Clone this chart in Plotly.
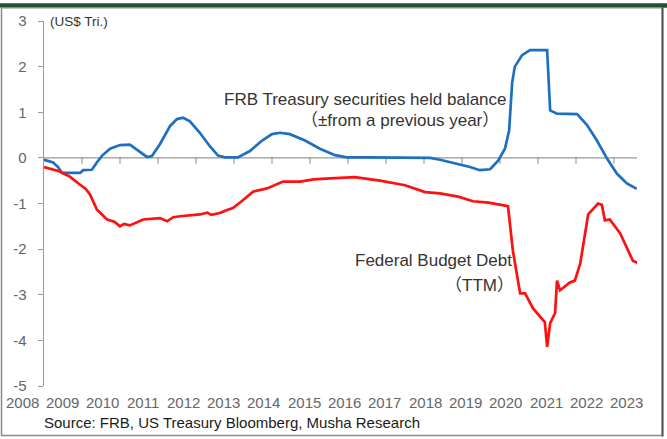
import plotly.graph_objects as go

# ---- data ----
blue_x = [2008.0, 2008.03, 2008.24, 2008.37, 2008.47, 2008.95, 2009.03, 2009.26, 2009.39, 2009.53,
          2009.74, 2010.0, 2010.26, 2010.53, 2010.71, 2010.84, 2011.05, 2011.32, 2011.5, 2011.66,
          2011.84, 2012.1, 2012.37, 2012.58, 2012.76, 2013.1, 2013.42, 2013.74, 2014.0, 2014.21,
          2014.47, 2014.87, 2015.26, 2015.66, 2015.97, 2016.5, 2017.0, 2017.5, 2018.16, 2018.42,
          2018.82, 2019.21, 2019.47, 2019.74, 2019.95, 2020.13, 2020.24, 2020.32, 2020.39, 2020.58,
          2020.79, 2021.24, 2021.32, 2021.5, 2022.03, 2022.29, 2022.55, 2022.82, 2023.08, 2023.34,
          2023.6]
blue_y = [-0.03, -0.05, -0.1, -0.2, -0.33, -0.33, -0.27, -0.26, -0.1, 0.05,
          0.2, 0.28, 0.29, 0.13, 0.02, 0.04, 0.3, 0.7, 0.85, 0.88,
          0.8, 0.55, 0.25, 0.05, 0.01, 0.01, 0.15, 0.38, 0.52, 0.55,
          0.52, 0.38, 0.2, 0.06, 0.01, 0.01, 0.01, 0.0, 0.0, -0.04,
          -0.12, -0.2, -0.27, -0.25, -0.06, 0.2, 0.6, 1.65, 2.0, 2.25,
          2.36, 2.36, 1.04, 0.97, 0.96, 0.72, 0.38, -0.02, -0.35, -0.56,
          -0.68]

red_x = [2008.0, 2008.2, 2008.42, 2008.55, 2008.68, 2008.95, 2009.1, 2009.21, 2009.39, 2009.66,
         2009.85, 2010.0, 2010.1, 2010.26, 2010.45, 2010.61, 2011.05, 2011.15, 2011.24, 2011.4,
         2011.58, 2012.1, 2012.3, 2012.4, 2012.63, 2012.8, 2012.97, 2013.2, 2013.5, 2013.87,
         2014.29, 2014.74, 2015.1, 2015.53, 2016.18, 2016.84, 2017.5, 2018.03, 2018.42, 2018.9,
         2019.29, 2019.7, 2020.21, 2020.34, 2020.53, 2020.66, 2020.87, 2021.18, 2021.24, 2021.32,
         2021.45, 2021.5, 2021.58, 2021.84, 2021.97, 2022.11, 2022.32, 2022.58, 2022.68, 2022.76,
         2022.89, 2023.16, 2023.34, 2023.5, 2023.63]
red_y = [-0.2, -0.25, -0.3, -0.36, -0.41, -0.59, -0.68, -0.8, -1.13, -1.35,
         -1.4, -1.5, -1.45, -1.48, -1.4, -1.35, -1.32, -1.36, -1.39, -1.3,
         -1.28, -1.24, -1.2, -1.25, -1.21, -1.15, -1.1, -0.95, -0.74, -0.67,
         -0.52, -0.52, -0.47, -0.45, -0.42, -0.5, -0.6, -0.75, -0.78, -0.85,
         -0.95, -0.98, -1.06, -2.04, -2.97, -2.97, -3.3, -3.6, -4.14, -3.62,
         -3.4, -2.69, -2.9, -2.73, -2.69, -2.32, -1.24, -1.0, -1.03, -1.37,
         -1.35, -1.65, -1.97, -2.26, -2.3]

year_labels = [str(y) for y in range(2008, 2024)]
year_ticks = list(range(2008, 2024))
y_ticks = [3, 2, 1, 0, -1, -2, -3, -4, -5]

W, H = 667, 439
L_PX, R_PX, T_PX, B_PX = 44, 637, 17, 386
PW = R_PX - L_PX
PH = B_PX - T_PX

def px_x(p):
    return (p - L_PX) / PW

def px_y(p):
    return (B_PX - p) / PH

x_per_year = 38.0
lab_per_year = 40.33
x_range = [2008, 2008 + PW / x_per_year]
y_range = [-5, 3]
units_per_px = (y_range[1] - y_range[0]) / PH

fig = go.Figure()
# category axis crossing at y = 0 (drawn under the series)
fig.add_trace(go.Scatter(x=x_range, y=[0, 0], mode="lines",
                         line=dict(color="#999999", width=1.3),
                         showlegend=False, hoverinfo="skip", cliponaxis=False))
fig.add_trace(go.Scatter(x=year_ticks[1:], y=[-2.5 * units_per_px] * (len(year_ticks) - 1),
                         mode="markers",
                         marker=dict(symbol="line-ns", size=5, line=dict(color="#999999", width=1.2)),
                         showlegend=False, hoverinfo="skip"))
fig.add_trace(go.Scatter(x=blue_x, y=blue_y, mode="lines",
                         line=dict(color="#1F6FC0", width=2.7),
                         showlegend=False, hoverinfo="skip"))
fig.add_trace(go.Scatter(x=red_x, y=red_y, mode="lines",
                         line=dict(color="#FF1010", width=2.7),
                         showlegend=False, hoverinfo="skip"))

tick_font = dict(family="Liberation Sans, Arial, sans-serif", size=15, color="#666666")
text_font = dict(family="Liberation Sans, Noto Sans CJK JP, sans-serif", size=17, color="#333333")

fig.update_layout(
    width=W, height=H,
    margin=dict(l=L_PX, r=W - R_PX, t=T_PX, b=H - B_PX, pad=0),
    paper_bgcolor="white", plot_bgcolor="white",
    xaxis=dict(range=x_range, showline=False, showgrid=False, zeroline=False,
               ticks="", showticklabels=False),
    yaxis=dict(range=y_range,
               showline=True, linecolor="#9a9a9a", linewidth=1.2,
               ticks="outside", ticklen=5, tickcolor="#9a9a9a",
               tickvals=y_ticks, ticktext=[str(v) + "\u00a0\u00a0" for v in y_ticks],
               tickfont=tick_font,
               showgrid=False, zeroline=False),
)

annotations = []
for i, lab in enumerate(year_labels):
    annotations.append(dict(text=lab, x=px_x(22 + lab_per_year * i), y=px_y(403),
                            xref="paper", yref="paper", xanchor="center", yanchor="middle",
                            showarrow=False, font=tick_font))

annotations += [
    dict(text="(US$ Tri.)", x=px_x(48), y=px_y(17), xref="paper", yref="paper",
         xanchor="left", yanchor="middle", showarrow=False,
         font=dict(family="Liberation Sans, sans-serif", size=13.5, color="#333333")),
    dict(text="FRB Treasury securities held balance", x=2016.45, y=1.29, xref="x", yref="y",
         xanchor="center", yanchor="middle", showarrow=False, font=text_font),
    dict(text="（±from a previous year）", x=2017.37, y=0.83, xref="x", yref="y",
         xanchor="center", yanchor="middle", showarrow=False, font=text_font),
    dict(text="Federal Budget Debt", x=2018.24, y=-2.24, xref="x", yref="y",
         xanchor="center", yanchor="middle", showarrow=False, font=text_font),
    dict(text="（TTM）", x=2019.47, y=-2.79, xref="x", yref="y",
         xanchor="center", yanchor="middle", showarrow=False, font=text_font),
    dict(text="Source: FRB, US Treasury Bloomberg, Musha Research", x=px_x(42), y=px_y(423),
         xref="paper", yref="paper", xanchor="left", yanchor="middle", showarrow=False,
         font=dict(family="Liberation Sans, Arial, sans-serif", size=15, color="#1a1a1a")),
]

shapes = [
    dict(type="rect", xref="paper", yref="paper", x0=px_x(-2), x1=px_x(W + 2), y0=px_y(3.5), y1=px_y(-1),
         fillcolor="#24502F", line=dict(width=0), layer="above"),
    dict(type="rect", xref="paper", yref="paper", x0=px_x(1.5), x1=px_x(662.5),
         y0=px_y(436), y1=px_y(3.5), line=dict(color="#8a8a8a", width=1.5),
         fillcolor="rgba(0,0,0,0)"),
    dict(type="line", xref="paper", yref="paper", x0=px_x(662.5), x1=px_x(662.5),
         y0=px_y(437), y1=px_y(3), line=dict(color="#555555", width=2)),
]
fig.update_layout(annotations=annotations, shapes=shapes)

fig.write_html("out.html")
